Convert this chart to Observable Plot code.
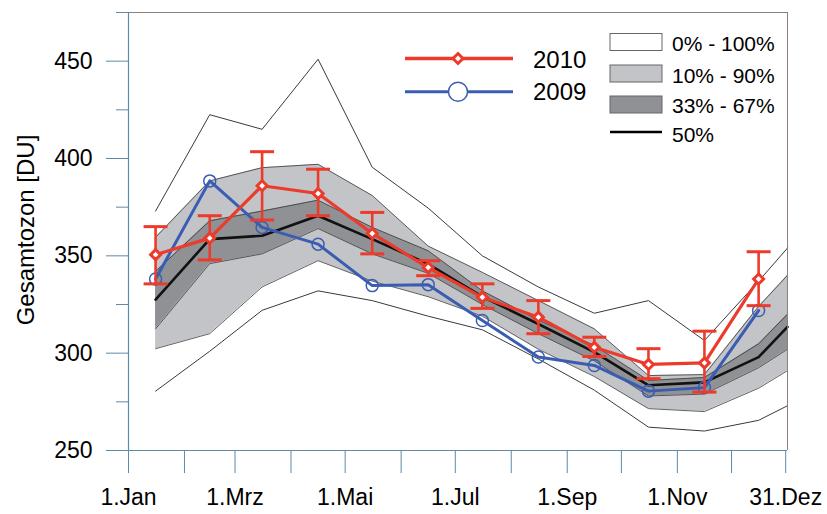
<!DOCTYPE html>
<html><head><meta charset="utf-8">
<script src="https://cdn.jsdelivr.net/npm/d3@7"></script>
<script src="https://cdn.jsdelivr.net/npm/@observablehq/plot@0.6"></script>
<style>body{margin:0;background:#fff;} #chart{width:827px;height:514px;}</style>
</head><body><div id="chart"></div>
<script>
// Climatology bands (day of year; last entry is the 31.Dez frame edge)
const bandDays = [15, 45, 74, 105, 135, 166, 196, 227, 258, 288, 319, 349, 365];
const p0   = [280.5, 301, 322, 332, 327, 319, 312, 297, 281, 262, 260, 265.5, 273];
const p10  = [302.3, 310, 334, 347.5, 337, 329, 319, 302, 288, 271.5, 270, 282, 291];
const p33  = [312.5, 346, 351, 364, 351, 341, 325, 310, 296, 278, 279, 292.5, 302];
const p50  = [327.5, 358.6, 360.3, 370.6, 358.6, 345.8, 329, 315, 300.5, 283.5, 285, 298, 313.5];
const p67  = [342, 368, 373, 378.6, 364.6, 352.6, 332, 317, 304, 286, 287.5, 304.8, 320];
const p90  = [359.5, 388.5, 395.3, 397, 381, 355, 341.5, 327, 312.5, 288.5, 289, 324, 340];
const p100 = [373, 422.5, 415, 451, 395.5, 374.5, 350, 334, 320.5, 327, 306.5, 337, 354];

// Monthly means (mid-month)
const monthDays = [15, 45, 74, 105, 135, 166, 196, 227, 258, 288, 319, 349];
const v2010  = [350.6, 359.1, 386, 382, 361.5, 344, 328.7, 318.5, 303, 294.2, 295, 338.1];
const hi2010 = [365, 370.6, 403.5, 394.5, 372.3, 347.5, 335.6, 327, 308.2, 302.3, 311.3, 352.1];
const lo2010 = [335.6, 347.9, 368.4, 370.6, 351, 339.8, 323, 310, 298.3, 286.9, 280, 324.4];
const v2009  = [338.1, 388.5, 364.6, 356, 334.7, 335.2, 316.8, 298, 293.7, 280.5, 282.3, 321.9];

// Axis ticks
const monthTicks = [0, 31, 59, 90, 120, 151, 181, 212, 243, 273, 304, 334, 364];
const xTickLabels = ["1.Jan", "", "1.Mrz", "", "1.Mai", "", "1.Jul", "", "1.Sep", "", "1.Nov", "", "31.Dez"];
const yMajor = [250, 300, 350, 400, 450];
const yMinor = [275, 325, 375, 425, 475];

const bands = bandDays.map((d, i) => ({day: d, p0: p0[i], p10: p10[i], p33: p33[i], p50: p50[i], p67: p67[i], p90: p90[i], p100: p100[i]}));
const obs = monthDays.map((d, i) => ({day: d, v2010: v2010[i], hi: hi2010[i], lo: lo2010[i], v2009: v2009[i]}));
const labelOf = new Map(monthTicks.map((t, i) => [t, xTickLabels[i]]));

const RED = "#ec3a2b", BLUE = "#3a5db3", LIGHT = "#c2c4c7", DARK = "#8f9195", EDGE = "#3a3a3a";
const AXIS = "#5f8aa8", FRAME = "#8c8079";
const capSymbol = {draw(ctx, size) { const w = Math.sqrt(size / Math.PI); ctx.moveTo(-w, 0); ctx.lineTo(w, 0); }};

const chart = Plot.plot({
  width: 827, height: 514,
  marginLeft: 128, marginRight: 40, marginTop: 12, marginBottom: 64,
  style: {fontFamily: "Liberation Sans, Arial, sans-serif", fontSize: "23px", background: "#fff", overflow: "visible"},
  x: {domain: [0, 365], label: null},
  y: {domain: [250, 475], label: null},
  marks: [
    Plot.areaY(bands, {x: "day", y1: "p10", y2: "p90", fill: LIGHT, curve: "linear"}),
    Plot.areaY(bands, {x: "day", y1: "p33", y2: "p67", fill: DARK, curve: "linear"}),
    Plot.lineY(bands, {x: "day", y: "p10", stroke: EDGE, strokeWidth: 0.8}),
    Plot.lineY(bands, {x: "day", y: "p90", stroke: EDGE, strokeWidth: 0.8}),
    Plot.lineY(bands, {x: "day", y: "p33", stroke: EDGE, strokeWidth: 0.8}),
    Plot.lineY(bands, {x: "day", y: "p67", stroke: EDGE, strokeWidth: 0.8}),
    Plot.lineY(bands, {x: "day", y: "p0", stroke: EDGE, strokeWidth: 1}),
    Plot.lineY(bands, {x: "day", y: "p100", stroke: EDGE, strokeWidth: 1}),
    Plot.lineY(bands, {x: "day", y: "p50", stroke: "#111", strokeWidth: 2.6}),
    // 2009
    Plot.lineY(obs, {x: "day", y: "v2009", stroke: BLUE, strokeWidth: 3}),
    Plot.dot(obs, {x: "day", y: "v2009", r: 6, stroke: BLUE, strokeWidth: 1.5, fill: "none"}),
    // 2010
    Plot.lineY(obs, {x: "day", y: "v2010", stroke: RED, strokeWidth: 3.2}),
    Plot.ruleX(obs, {x: "day", y1: "lo", y2: "hi", stroke: RED, strokeWidth: 2.6}),
    Plot.dot(obs, {x: "day", y: "hi", symbol: capSymbol, r: 12, stroke: RED, strokeWidth: 3, fill: "none"}),
    Plot.dot(obs, {x: "day", y: "lo", symbol: capSymbol, r: 12, stroke: RED, strokeWidth: 3, fill: "none"}),
    Plot.dot(obs, {x: "day", y: "v2010", symbol: "diamond2", r: 4.5, stroke: RED, strokeWidth: 3, fill: "#fff"}),
    // frame & axes
    Plot.ruleY([475], {stroke: FRAME, strokeWidth: 1}),
    Plot.ruleX([365], {stroke: FRAME, strokeWidth: 1}),
    Plot.ruleX([0], {stroke: AXIS, strokeWidth: 1.2}),
    Plot.ruleY([250], {stroke: AXIS, strokeWidth: 1.2}),
    Plot.axisY({ticks: yMajor, tickSize: 22, tickPadding: 14, stroke: AXIS, fill: "#000", fontSize: 23, tickFormat: d => String(d)}),
    Plot.axisY({ticks: yMinor, tickSize: 12, stroke: AXIS, tickFormat: () => ""}),
    Plot.axisX({ticks: monthTicks, tickSize: 23, tickPadding: 15, stroke: AXIS, fill: "#000", fontSize: 23, tickFormat: d => labelOf.get(d) ?? ""})
  ]
});

document.getElementById("chart").appendChild(chart);

// Legend and axis title
const svg = d3.select(chart);
const font = "Liberation Sans, Arial, sans-serif";
svg.append("text")
  .attr("transform", "translate(34,230) rotate(-90)")
  .attr("text-anchor", "middle")
  .attr("font-family", font).attr("font-size", 24).attr("fill", "#000")
  .text("Gesamtozon [DU]");

const lg = svg.append("g").attr("text-anchor", "start");
lg.append("line").attr("x1", 405).attr("x2", 513).attr("y1", 58.5).attr("y2", 58.5).attr("stroke", RED).attr("stroke-width", 3.5);
lg.append("path").attr("d", d3.symbol(d3.symbolDiamond2, 4.5 * 4.5 * Math.PI)()).attr("transform", "translate(458,58.5)")
  .attr("stroke", RED).attr("stroke-width", 3).attr("fill", "#fff");
lg.append("text").attr("x", 533).attr("y", 68).attr("text-anchor", "start").attr("font-family", font).attr("font-size", 24).text("2010");
lg.append("line").attr("x1", 405).attr("x2", 513).attr("y1", 91.7).attr("y2", 91.7).attr("stroke", BLUE).attr("stroke-width", 3);
lg.append("circle").attr("cx", 458).attr("cy", 91.7).attr("r", 9.5).attr("stroke", BLUE).attr("stroke-width", 1.5).attr("fill", "#fff");
lg.append("text").attr("x", 533).attr("y", 100).attr("text-anchor", "start").attr("font-family", font).attr("font-size", 24).text("2009");

const legendItems = [
  {label: "0% - 100%", fill: "#fff"},
  {label: "10% - 90%", fill: LIGHT},
  {label: "33% - 67%", fill: DARK}
];
const rectY = [33.5, 65, 96];
const textY = [51, 82.5, 113];
legendItems.forEach((it, i) => {
  lg.append("rect").attr("x", 610).attr("y", rectY[i]).attr("width", 52).attr("height", 17)
    .attr("fill", it.fill).attr("stroke", "#666").attr("stroke-width", 1);
  lg.append("text").attr("x", 672).attr("y", textY[i]).attr("text-anchor", "start").attr("font-family", font).attr("font-size", 21).text(it.label);
});
lg.append("line").attr("x1", 610).attr("x2", 662).attr("y1", 132).attr("y2", 132).attr("stroke", "#000").attr("stroke-width", 2.5);
lg.append("text").attr("x", 672).attr("y", 141.5).attr("text-anchor", "start").attr("font-family", font).attr("font-size", 21).text("50%");
</script></body></html>
